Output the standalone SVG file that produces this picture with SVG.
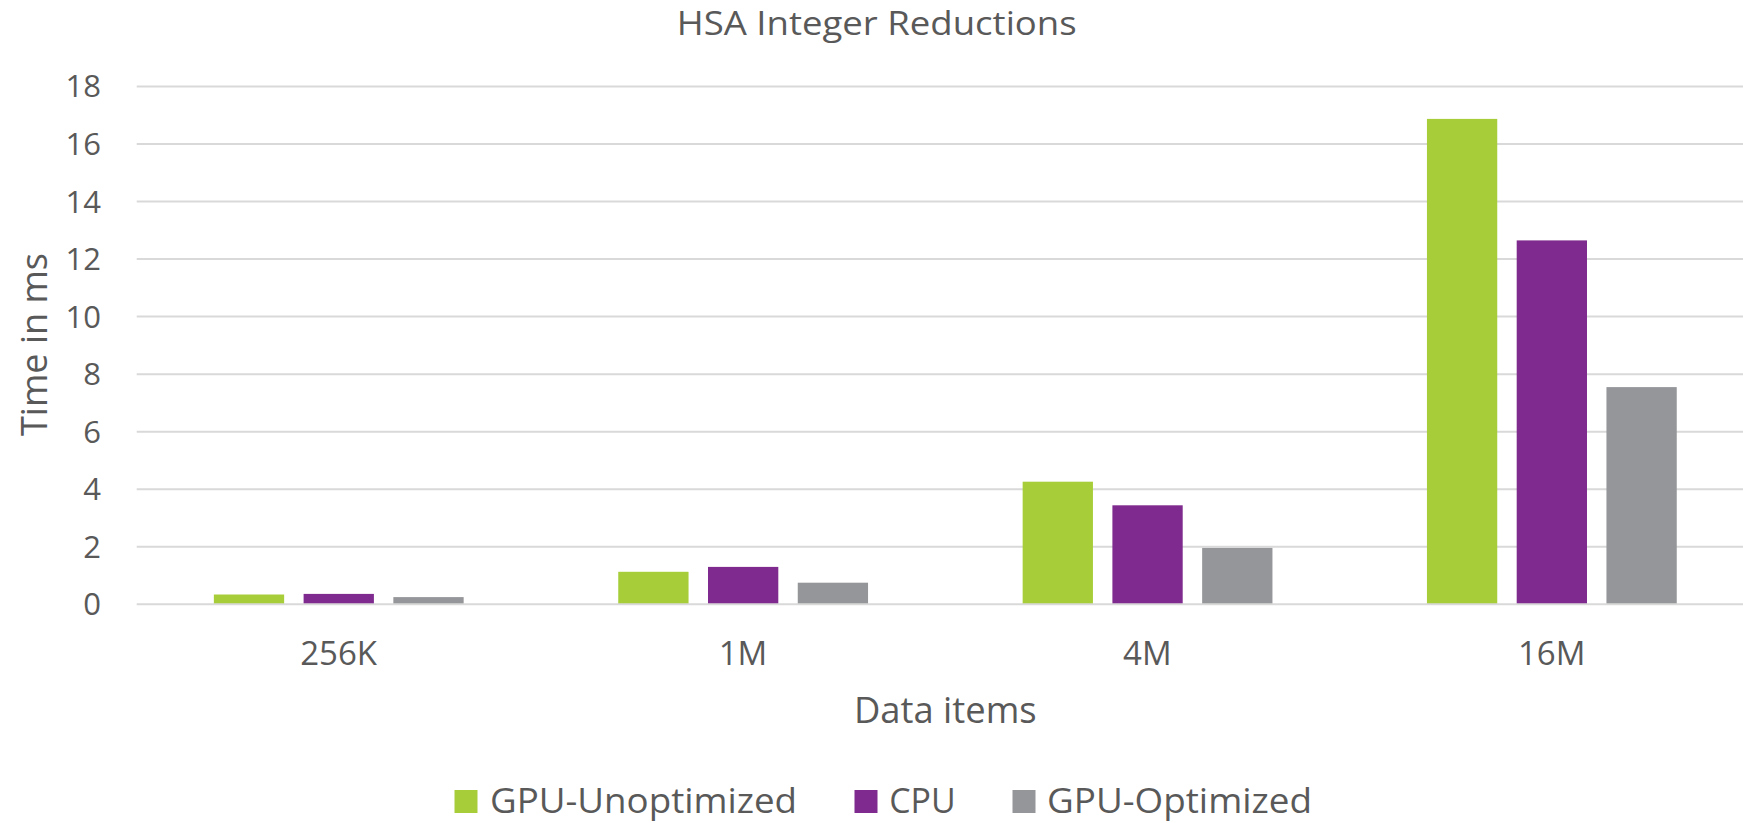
<svg xmlns="http://www.w3.org/2000/svg" width="1743" height="823" viewBox="0 0 1743 823">
<style>
text{font-family:"Open Sans","Liberation Sans",sans-serif;fill:#595959}
.grid{stroke:#d9d9d9;stroke-width:2}
.tick{font-size:31px;text-anchor:end}
.cat{font-size:33px;text-anchor:middle}
.g{fill:#a7ce38}
.p{fill:#7f2a8e}
.s{fill:#959699}
</style>
<rect width="1743" height="823" fill="#ffffff"/>
<text id="title" x="876.7" y="35" font-size="32" text-anchor="middle" textLength="400" lengthAdjust="spacingAndGlyphs">HSA Integer Reductions</text>
<g id="gridlines">
<line class="grid" x1="136.7" y1="86.44" x2="1743" y2="86.44"/>
<line class="grid" x1="136.7" y1="143.98" x2="1743" y2="143.98"/>
<line class="grid" x1="136.7" y1="201.52" x2="1743" y2="201.52"/>
<line class="grid" x1="136.7" y1="259.06" x2="1743" y2="259.06"/>
<line class="grid" x1="136.7" y1="316.6" x2="1743" y2="316.6"/>
<line class="grid" x1="136.7" y1="374.14" x2="1743" y2="374.14"/>
<line class="grid" x1="136.7" y1="431.68" x2="1743" y2="431.68"/>
<line class="grid" x1="136.7" y1="489.22" x2="1743" y2="489.22"/>
<line class="grid" x1="136.7" y1="546.76" x2="1743" y2="546.76"/>
</g>
<g id="y-ticks">
<text class="tick" x="101" y="97.4">18</text>
<text class="tick" x="101" y="155">16</text>
<text class="tick" x="101" y="212.5">14</text>
<text class="tick" x="101" y="270">12</text>
<text class="tick" x="101" y="327.6">10</text>
<text class="tick" x="101" y="385.1">8</text>
<text class="tick" x="101" y="442.7">6</text>
<text class="tick" x="101" y="500.2">4</text>
<text class="tick" x="101" y="557.8">2</text>
<text class="tick" x="101" y="615.3">0</text>
</g>
<text id="y-title" transform="translate(46.5,344.5) rotate(-90)" font-size="36" text-anchor="middle" textLength="183" lengthAdjust="spacingAndGlyphs">Time in ms</text>
<g id="cat-256K">
<rect class="g" x="213.85" y="594.5" width="70.3" height="9.8"/>
<rect class="p" x="303.6" y="593.9" width="70.3" height="10.4"/>
<rect class="s" x="393.35" y="597.1" width="70.3" height="7.2"/>
<text class="cat" x="338.6" y="665">256K</text>
</g>
<g id="cat-1M">
<rect class="g" x="618.25" y="571.8" width="70.3" height="32.5"/>
<rect class="p" x="708" y="566.9" width="70.3" height="37.4"/>
<rect class="s" x="797.75" y="582.7" width="70.3" height="21.6"/>
<text class="cat" x="743" y="665">1M</text>
</g>
<g id="cat-4M">
<rect class="g" x="1022.65" y="481.7" width="70.3" height="122.6"/>
<rect class="p" x="1112.4" y="505.3" width="70.3" height="99"/>
<rect class="s" x="1202.15" y="547.9" width="70.3" height="56.4"/>
<text class="cat" x="1147.4" y="665">4M</text>
</g>
<g id="cat-16M">
<rect class="g" x="1426.95" y="118.9" width="70.3" height="485.4"/>
<rect class="p" x="1516.7" y="240.4" width="70.3" height="363.9"/>
<rect class="s" x="1606.45" y="387.1" width="70.3" height="217.2"/>
<text class="cat" x="1551.7" y="665">16M</text>
</g>
<line id="baseline" class="grid" x1="136.7" y1="604.3" x2="1743" y2="604.3"/>
<text id="x-title" x="945.3" y="722.7" font-size="36" text-anchor="middle" textLength="182.7" lengthAdjust="spacingAndGlyphs">Data items</text>
<g id="legend">
<rect class="g" x="454.5" y="790" width="23" height="23"/>
<text x="490" y="812.7" font-size="35" textLength="307" lengthAdjust="spacingAndGlyphs">GPU-Unoptimized</text>
<rect class="p" x="854.5" y="790" width="23" height="23"/>
<text x="889.2" y="812.7" font-size="35" textLength="66.5" lengthAdjust="spacingAndGlyphs">CPU</text>
<rect class="s" x="1012.5" y="790" width="23" height="23"/>
<text x="1047" y="812.7" font-size="35" textLength="265" lengthAdjust="spacingAndGlyphs">GPU-Optimized</text>
</g>
</svg>
